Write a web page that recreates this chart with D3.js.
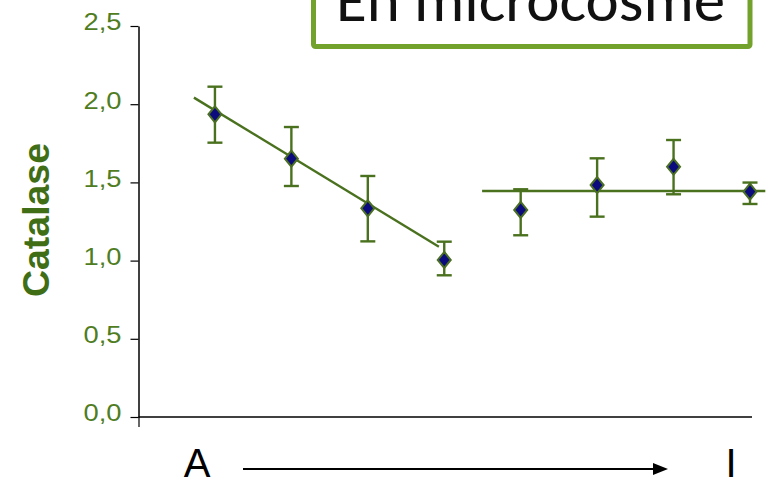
<!DOCTYPE html>
<html>
<head>
<meta charset="utf-8">
<script src="https://cdn.jsdelivr.net/npm/d3@7"></script>
<style>
  html, body { margin: 0; padding: 0; background: #ffffff; }
  svg { display: block; }
</style>
</head>
<body>
<svg id="chart" width="769" height="479"></svg>
<script>
// ---- data ----
const positions = [1, 2, 3, 4, 5, 6, 7, 8];
const catalase  = [1.935, 1.652, 1.334, 1.004, 1.324, 1.483, 1.600, 1.441];
const errHigh   = [2.112, 1.854, 1.541, 1.121, 1.456, 1.654, 1.771, 1.499];
const errLow    = [1.754, 1.477, 1.123, 0.906, 1.162, 1.281, 1.424, 1.362];
const trendA_x  = [0.725, 3.93];
const trendA_y  = [2.042, 1.089];
const trendB_x  = [4.495, 8.2];
const trendB_y  = [1.445, 1.445];
const yTicks    = [0, 0.5, 1.0, 1.5, 2.0, 2.5];
const yLabel    = "Catalase";
const title     = "En microcosme";
const startLabel = "A";
const endLabel   = "I";

// ---- layout ----
const svg = d3.select("#chart");
const x = d3.scaleLinear().domain([0, 8]).range([138.5, 750]);
const y = d3.scaleLinear().domain([0, 2.5]).range([417, 26]);

const green = "#4a711e";
const tickGreen = "#4f7d1f";

// Title box
svg.append("rect")
  .attr("x", 313.5).attr("y", -20)
  .attr("width", 436.5).attr("height", 66.5)
  .attr("fill", "#ffffff")
  .attr("stroke", "#72a22b").attr("stroke-width", 5)
  .attr("rx", 2);
svg.append("text")
  .attr("x", 336).attr("y", 21)
  .attr("font-family", "Carlito, Lato, 'Open Sans', sans-serif")
  .attr("font-size", 62)
  .attr("fill", "#111111")
  .attr("textLength", 389).attr("lengthAdjust", "spacingAndGlyphs")
  .text(title);

// Y axis
const yAxis = d3.axisLeft(y)
  .tickValues(yTicks)
  .tickFormat(d => d3.format(".1f")(d).replace(".", ","))
  .tickSize(8).tickSizeOuter(0).tickPadding(9);
const gy = svg.append("g").attr("transform", `translate(${x(0)},0)`).call(yAxis);
gy.select(".domain").attr("stroke", "#000").attr("stroke-width", 1.5);
gy.selectAll(".tick line").attr("stroke", "#000").attr("stroke-width", 1.2);
gy.selectAll(".tick text")
  .attr("font-family", "'Liberation Sans', Arial, sans-serif")
  .attr("font-size", 23)
  .attr("fill", tickGreen)
  .attr("dy", "0.17em")
  .attr("textLength", 38).attr("lengthAdjust", "spacingAndGlyphs");

// X axis
const xAxis = d3.axisBottom(x).tickValues([0]).tickFormat("").tickSize(10).tickSizeOuter(0);
const gx = svg.append("g").attr("transform", `translate(0,${y(0)})`).call(xAxis);
gx.select(".domain").attr("stroke", "#000").attr("stroke-width", 1.5)
  .attr("d", `M${x(0)},0H${x(8) + 2}`);
gx.selectAll(".tick line").attr("stroke", "#000").attr("stroke-width", 1.2);

// Y label
svg.append("text")
  .attr("transform", `translate(49,220) rotate(-90)`)
  .attr("text-anchor", "middle")
  .attr("font-family", "'Liberation Sans', Arial, sans-serif")
  .attr("font-weight", "bold")
  .attr("font-size", 36)
  .attr("fill", "#3f6e17")
  .attr("textLength", 154).attr("lengthAdjust", "spacingAndGlyphs")
  .text(yLabel);

// Trend lines
const line = d3.line().x(d => x(d[0])).y(d => y(d[1]));
svg.append("path")
  .datum(d3.zip(trendA_x, trendA_y))
  .attr("d", line).attr("fill", "none")
  .attr("stroke", green).attr("stroke-width", 2.4);
svg.append("path")
  .datum(d3.zip(trendB_x, trendB_y))
  .attr("d", line).attr("fill", "none")
  .attr("stroke", green).attr("stroke-width", 2.4);

// Error bars
const pts = positions.map((p, i) => ({ p, v: catalase[i], hi: errHigh[i], lo: errLow[i] }));
const eb = svg.append("g").attr("stroke", green).attr("stroke-width", 2.4).attr("fill", "none");
pts.forEach(d => {
  eb.append("line").attr("x1", x(d.p)).attr("x2", x(d.p)).attr("y1", y(d.hi)).attr("y2", y(d.lo));
  eb.append("line").attr("x1", x(d.p) - 7.5).attr("x2", x(d.p) + 7.5).attr("y1", y(d.hi)).attr("y2", y(d.hi));
  eb.append("line").attr("x1", x(d.p) - 7.5).attr("x2", x(d.p) + 7.5).attr("y1", y(d.lo)).attr("y2", y(d.lo));
});

// Diamond markers
const hw = 6.5, hh = 8;
svg.append("g").selectAll("path")
  .data(pts).join("path")
  .attr("d", d => {
    const cx = x(d.p), cy = y(d.v);
    return `M${cx},${cy - hh}L${cx + hw},${cy}L${cx},${cy + hh}L${cx - hw},${cy}Z`;
  })
  .attr("fill", "#0b0b7e")
  .attr("stroke", "#4a6e22").attr("stroke-width", 2);

// Bottom labels and arrow
svg.append("text")
  .attr("x", 197).attr("y", 476.5)
  .attr("text-anchor", "middle")
  .attr("font-family", "'Liberation Sans', Arial, sans-serif")
  .attr("font-size", 40)
  .attr("fill", "#000")
  .text(startLabel);
svg.append("text")
  .attr("x", 731).attr("y", 476.5)
  .attr("text-anchor", "middle")
  .attr("font-family", "'Liberation Sans', Arial, sans-serif")
  .attr("font-size", 40)
  .attr("fill", "#000")
  .text(endLabel);
svg.append("line")
  .attr("x1", 243).attr("x2", 656).attr("y1", 469).attr("y2", 469)
  .attr("stroke", "#000").attr("stroke-width", 2);
svg.append("path")
  .attr("d", "M653,463L668,469L653,475Z")
  .attr("fill", "#000");
</script>
</body>
</html>
